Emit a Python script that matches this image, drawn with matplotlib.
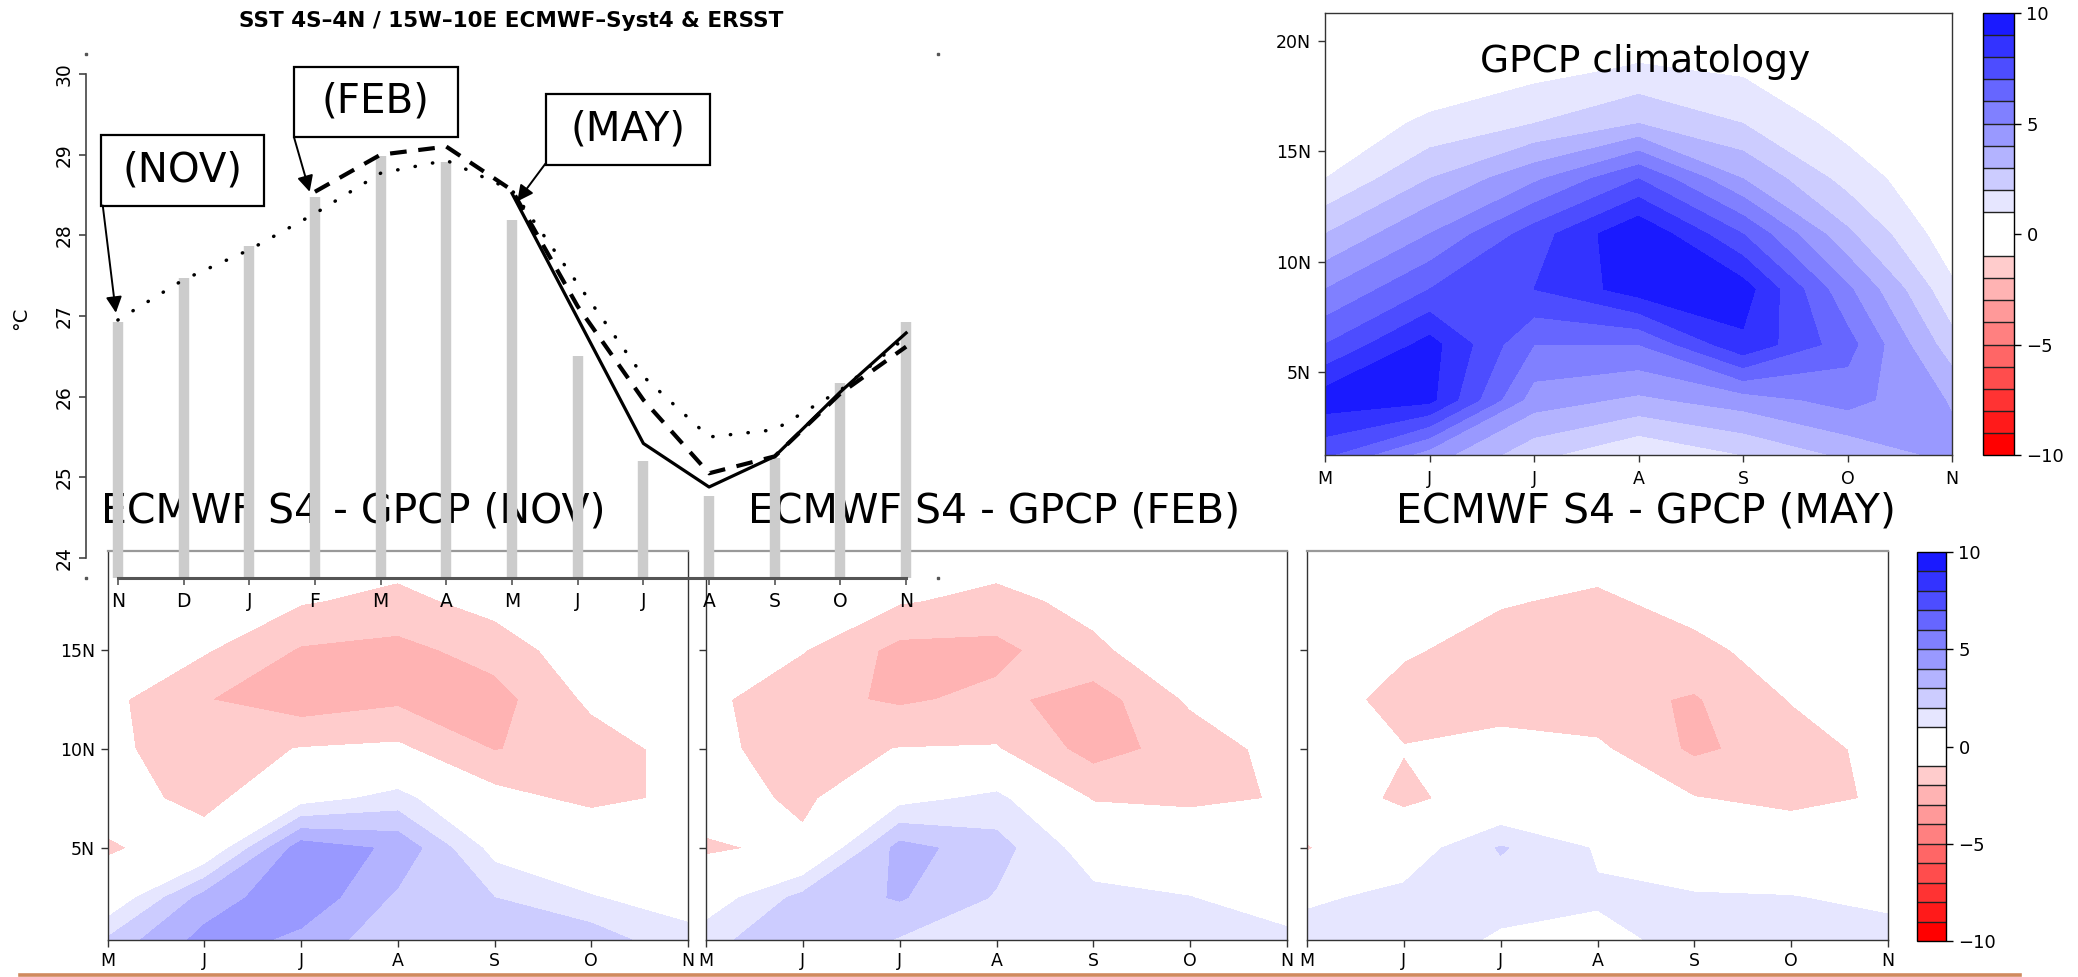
import numpy as np
import matplotlib
matplotlib.use('Agg')
import matplotlib.pyplot as plt
from matplotlib.patches import Rectangle
from matplotlib.lines import Line2D

# ---------------- data ----------------
sst_months = ['N', 'D', 'J', 'F', 'M', 'A', 'M', 'J', 'J', 'A', 'S', 'O', 'N']
sst_yticks = [24, 25, 26, 27, 28, 29, 30]
ersst = [26.93, 27.47, 27.87, 28.48, 28.98, 28.91, 28.19, 26.50, 25.20, 24.77, 25.24, 26.17, 26.93]
s4_nov = [26.95, 27.45, 27.82, 28.27, 28.77, 28.93, 28.56, 27.40, 26.25, 25.50, 25.59, 26.08, 26.74]
s4_feb_start = 4
s4_feb = [28.54, 29.00, 29.10, 28.56, 27.12, 25.96, 25.05, 25.26, 26.04, 26.62]
s4_may_start = 7
s4_may = [28.52, 26.97, 25.42, 24.88, 25.26, 26.06, 26.79]

rain_months = ['M', 'J', 'J', 'A', 'S', 'O', 'N']
lat_ticks = [5, 10, 15, 20]
lat_labels = ['5N', '10N', '15N', '20N']
clim_lat = [1.25, 3.75, 6.25, 8.75, 11.25, 13.75, 16.25, 18.75, 21.25]
anom_lat = [0.0, 2.5, 5.0, 7.5, 10.0, 12.5, 15.0, 17.5, 20.0]

# rows = latitude, columns = month (M J J A S O N)
gpcp_clim = [
    [7.2, 4.5, 2.3, 1.0, 2.0, 3.2, 4.3],
    [9.6, 9.3, 4.5, 3.8, 4.5, 5.4, 3.9],
    [7.0, 9.4, 6.0, 6.0, 8.8, 6.4, 2.4],
    [5.0, 7.0, 8.0, 9.5, 9.5, 5.2, 1.2],
    [3.0, 5.0, 7.5, 9.95, 7.0, 3.2, 0.3],
    [1.0, 3.0, 4.8, 7.0, 4.0, 1.6, 0.0],
    [0.3, 1.2, 2.0, 3.0, 2.0, 0.6, 0.0],
    [0.0, 0.2, 0.6, 1.1, 0.8, 0.1, 0.0],
    [0.0, 0.0, 0.0, 0.0, 0.0, 0.0, 0.0],
]

anom_nov = [
    [2.5, 4.5, 3.5, 2.3, 2.4, 2.9, 1.4],
    [0.0, 3.4, 4.8, 2.8, 2.0, 1.05, 0.6],
    [-1.2, -0.2, 4.6, 3.8, 0.6, 0.2, 0.0],
    [-0.3, -1.5, 0.5, 1.4, -0.6, -1.3, -0.77],
    [-0.8, -1.5, -0.95, -0.8, -2.05, -1.5, -0.62],
    [-0.74, -1.95, -2.6, -2.2, -2.4, -0.8, 0.0],
    [0.0, -0.9, -2.1, -2.3, -1.6, -0.3, 0.0],
    [0.0, -0.2, -0.9, -1.3, -0.6, 0.0, 0.0],
    [0.0, 0.0, 0.0, -0.47, -0.1, 0.0, 0.0],
]

anom_feb = [
    [1.8, 2.8, 1.7, 1.4, 1.6, 1.5, 1.35],
    [0.3, 2.34, 3.1, 1.9, 1.28, 1.02, 0.5],
    [-1.2, -0.7, 3.4, 2.4, 0.4, 0.3, 0.0],
    [-0.3, -1.3, 0.6, 1.3, -1.1, -1.3, -0.9],
    [-0.8, -1.35, -0.97, -0.93, -2.4, -1.6, -0.6],
    [-0.75, -1.7, -2.15, -1.75, -2.5, -0.85, 0.0],
    [0.0, -0.95, -2.3, -2.3, -1.2, -0.3, 0.0],
    [0.0, -0.2, -0.9, -1.3, -0.7, 0.0, 0.0],
    [0.0, 0.0, 0.0, -0.47, -0.1, 0.0, 0.0],
]

anom_may = [
    [1.63, 1.5, 0.75, 0.7, 1.2, 1.3, 1.6],
    [0.8, 1.3, 1.4, 1.1, 1.1, 1.05, 0.7],
    [-1.1, 0.3, 2.1, 0.9, 0.2, -0.15, 0.0],
    [0.0, -1.3, -0.3, -0.1, -0.95, -1.3, -0.87],
    [-0.2, -0.95, -0.6, -0.8, -2.2, -1.5, -0.65],
    [-0.25, -1.5, -1.5, -1.7, -2.1, -0.95, 0.0],
    [0.0, -0.85, -1.5, -1.6, -1.3, -0.5, 0.0],
    [0.0, -0.5, -0.9, -1.2, -0.6, 0.0, 0.0],
    [0.0, 0.0, 0.0, -0.5, -0.1, 0.0, 0.0],
]

levels = [-10, -9, -8, -7, -6, -5, -4, -3, -2, -1, 1, 2, 3, 4, 5, 6, 7, 8, 9, 10]
cbar_ticks = [-10, -5, 0, 5, 10]

# ---------------- styling ----------------
red_shades = [0, 25.5, 51, 76.5, 102, 127.5, 153, 178.5, 204]
blue_shades = [229.5, 204, 178.5, 153, 127.5, 102, 76.5, 51, 25.5]
fill_colors = ([(1.0, v / 255, v / 255) for v in red_shades] + [(1, 1, 1)] +
               [(v / 255, v / 255, 1.0) for v in blue_shades])

W, H = 2078, 977
fig = plt.figure(figsize=(W / 100, H / 100), dpi=100)
fig.patch.set_facecolor('white')


def fx(x):
    return x / W


def fy(y):
    return 1 - y / H


def box(x0, y0, x1, y1):
    return [x0 / W, 1 - y1 / H, (x1 - x0) / W, (y1 - y0) / H]


def style_map_axes(ax):
    ax.set_xlim(0, 6)
    ax.set_xticks(range(len(rain_months)))
    ax.set_xticklabels(rain_months)
    for s in ax.spines.values():
        s.set_color('#333333')
        s.set_linewidth(1.0)
    ax.tick_params(direction='out', length=5, width=1, labelsize=12.5, pad=3.5,
                   color='#333333')


# ---------------- top-right: GPCP climatology ----------------
axc = fig.add_axes(box(1325, 13, 1952, 455))
csc = axc.contourf(np.arange(len(rain_months)), clim_lat, np.array(gpcp_clim),
                   levels=levels, colors=fill_colors)
style_map_axes(axc)
axc.set_ylim(1.25, 21.25)
axc.set_yticks(lat_ticks)
axc.set_yticklabels(lat_labels)
axc.tick_params(axis='y', pad=5)
axc.tick_params(axis='x', pad=6)
fig.text(fx(1645), fy(72), 'GPCP climatology', ha='center', va='baseline', fontsize=27)

cax1 = fig.add_axes(box(1983, 13, 2014, 455))
cb1 = fig.colorbar(csc, cax=cax1, ticks=cbar_ticks, drawedges=True, spacing='proportional')
cb1.outline.set_linewidth(1.0)
cb1.dividers.set_color('#222222')
cb1.dividers.set_linewidth(1.0)
cax1.tick_params(labelsize=13, length=5, width=1, pad=4)

# ---------------- bottom: anomaly panels ----------------
panel_boxes = [(107.5, 551, 688, 940), (706, 551, 1287, 940), (1307, 551, 1888, 940)]
anoms = [anom_nov, anom_feb, anom_may]
titles = ['ECMWF S4 - GPCP (NOV)', 'ECMWF S4 - GPCP (FEB)', 'ECMWF S4 - GPCP (MAY)']
title_x = [353, 994, 1646]
cs_last = None
for i, (pb, z) in enumerate(zip(panel_boxes, anoms)):
    ax = fig.add_axes(box(*pb))
    cs_last = ax.contourf(np.arange(len(rain_months)), anom_lat, np.array(z),
                          levels=levels, colors=fill_colors)
    style_map_axes(ax)
    ax.set_ylim(0.36, 20.0)
    ax.set_yticks(lat_ticks[:3])
    ax.set_yticklabels(lat_labels[:3] if i == 0 else [''] * 3)
    ax.tick_params(axis='y', pad=4)
    ax.spines['top'].set_color('#999999')
    ax.spines['top'].set_linewidth(1.6)
    fig.text(fx(title_x[i]), fy(522), titles[i], ha='center', va='baseline',
             fontsize=29.5, zorder=1)

cax2 = fig.add_axes(box(1917, 552, 1946, 941))
cb2 = fig.colorbar(cs_last, cax=cax2, ticks=cbar_ticks, drawedges=True, spacing='proportional')
cb2.outline.set_linewidth(1.0)
cb2.dividers.set_color('#222222')
cb2.dividers.set_linewidth(1.0)
cax2.tick_params(labelsize=13, length=5, width=1, pad=4)

# ---------------- top-left: SST seasonal cycle (overlay) ----------------
ax = fig.add_axes(box(86, 54, 938, 578))
ax.set_zorder(10)
ax.patch.set_alpha(0)
ymin, ymax = 23.752, 30.248
ax.set_xlim(0.515, 13.485)
ax.set_ylim(ymin, ymax)
xs = np.arange(1, len(sst_months) + 1)

ax.vlines(xs, ymin, ersst, colors='#cccccc', linewidth=7.5, zorder=1)
ax.plot(xs, s4_nov, color='black', linewidth=2.5, linestyle=(0, (0.1, 5)),
        dash_capstyle='round', zorder=3)
ax.plot(xs[s4_feb_start - 1:], s4_feb, color='black', linewidth=3.0,
        linestyle=(0, (4, 2.8)), zorder=3)
ax.plot(xs[s4_may_start - 1:], s4_may, color='black', linewidth=2.3,
        linestyle='-', zorder=3)

for s in ['top', 'right']:
    ax.spines[s].set_visible(False)
ax.spines['bottom'].set_bounds(1, 13)
ax.spines['bottom'].set_color('#555555')
ax.spines['bottom'].set_linewidth(2.2)
ax.spines['left'].set_bounds(24, 30)
ax.spines['left'].set_color('#444444')
ax.spines['left'].set_linewidth(1.2)
ax.set_xticks(xs)
ax.set_xticklabels(sst_months)
ax.set_yticks(sst_yticks)
ax.tick_params(axis='x', length=5, width=1.2, pad=5, labelsize=13.5, color='#555555')
ax.tick_params(axis='y', length=5, width=1.2, pad=4, labelsize=13.5, labelrotation=90,
               color='#444444')
for lab in ax.get_yticklabels():
    lab.set_verticalalignment('center')
ax.plot([0, 1, 0, 1], [0, 0, 1, 1], transform=ax.transAxes, linestyle='none',
        marker='s', markersize=1.6, color='#555555', clip_on=False)

# annotation boxes
ann_text = ['(NOV)', '(FEB)', '(MAY)']
ann_boxes = [(0.741, 28.364, 3.222, 29.244), (3.679, 29.219, 6.175, 30.087),
             (7.514, 28.872, 10.011, 29.752)]
ann_start = [(0.77, 28.37), (3.68, 29.22), (7.51, 28.89)]
ann_tip = [(0.97, 27.04), (3.92, 28.54), (7.08, 28.42)]
for t, (x0, y0, x1, y1), st, tp in zip(ann_text, ann_boxes, ann_start, ann_tip):
    ax.add_patch(Rectangle((x0, y0), x1 - x0, y1 - y0, facecolor='white',
                           edgecolor='black', linewidth=1.6, zorder=4, clip_on=False))
    ax.text((x0 + x1) / 2, (y0 + y1) / 2, t, ha='center', va='center',
            fontsize=29, zorder=5)
    ax.annotate('', xy=tp, xytext=st,
                arrowprops=dict(arrowstyle='-|>', color='black', lw=1.4,
                                mutation_scale=24, shrinkA=0, shrinkB=0),
                zorder=5)

fig.text(fx(21), fy(318), '°C', rotation=90, ha='center', va='center', fontsize=14)
fig.text(fx(511), fy(21), 'SST 4S–4N / 15W–10E ECMWF–Syst4 & ERSST', ha='center',
         va='center', fontsize=15.5, fontweight='bold')

# bottom separator line
fig.add_artist(Line2D([fx(20), fx(2020)], [fy(975), fy(975)], color='#d08a5e',
                      linewidth=2.6, transform=fig.transFigure))

fig.savefig('out.png', dpi=100, facecolor='white')
